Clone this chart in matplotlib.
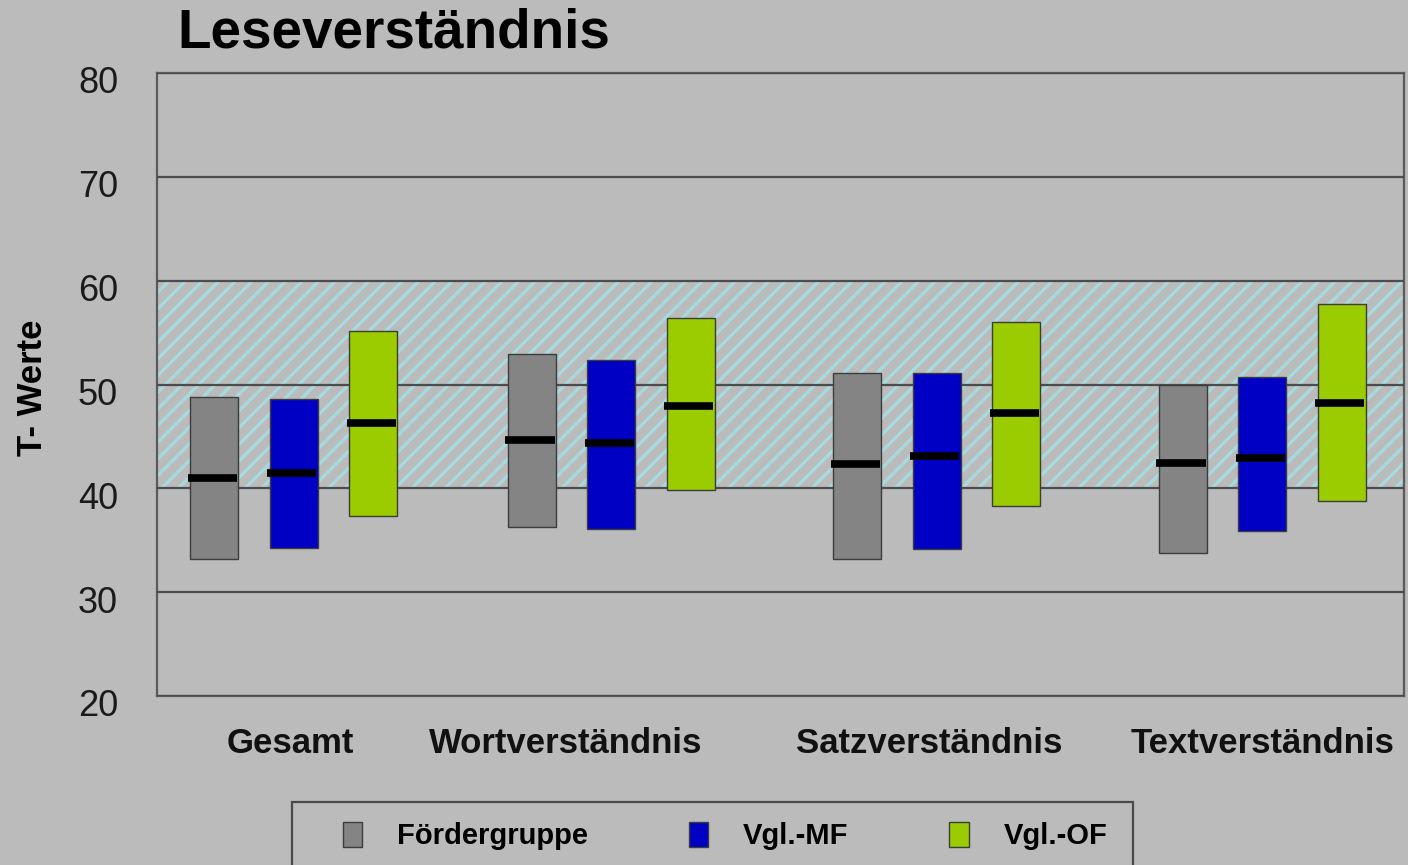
import matplotlib
matplotlib.use("Agg")
import matplotlib.pyplot as plt
from matplotlib.patches import Patch, Rectangle
from matplotlib.transforms import ScaledTranslation

plt.rcParams['font.family'] = ['Liberation Sans', 'DejaVu Sans']
plt.rcParams['hatch.linewidth'] = 2.4

categories = ["Gesamt", "Wortverständnis", "Satzverständnis", "Textverständnis"]
series = ["Fördergruppe", "Vgl.-MF", "Vgl.-OF"]
# lower, upper, median per series per category
lower = {
    "Fördergruppe": [33.2, 36.3, 33.2, 33.8],
    "Vgl.-MF":      [34.3, 36.1, 34.2, 35.9],
    "Vgl.-OF":      [37.3, 39.8, 38.3, 38.8],
}
upper = {
    "Fördergruppe": [48.8, 52.9, 51.1, 50.0],
    "Vgl.-MF":      [48.6, 52.4, 51.1, 50.7],
    "Vgl.-OF":      [55.2, 56.4, 56.0, 57.8],
}
median = {
    "Fördergruppe": [41.0, 44.7, 42.3, 42.4],
    "Vgl.-MF":      [41.5, 44.4, 43.1, 42.9],
    "Vgl.-OF":      [46.3, 47.9, 47.3, 48.2],
}
yticks = [20, 30, 40, 50, 60, 70, 80]
band = (40, 60)
title = "Leseverständnis"
ylabel = "T- Werte"

colors = {"Fördergruppe": "#848484", "Vgl.-MF": "#0000C4", "Vgl.-OF": "#9ACC00"}
offsets = {"Fördergruppe": -0.245, "Vgl.-MF": 0.0, "Vgl.-OF": 0.245}
group_x = [0.01, 0.99, 1.995, 3.0]
label_x = [0.0, 0.85, 1.97, 3.0]
bar_w = 0.148
bg = "#BBBBBB"

fig = plt.figure(figsize=(14.08, 8.65), dpi=100, facecolor=bg)
ax = fig.add_axes([157/1408, 1-696/865, (1404-157)/1408, (696-73)/865])
ax.set_facecolor(bg)
ax.set_xlim(-0.412, 3.437)
ax.set_ylim(yticks[0], yticks[-1])

ax.axhspan(band[0], band[1], facecolor='none', edgecolor='#A6DADE',
           hatch='//', linewidth=0, zorder=1)

ax.set_axisbelow(False)
ax.set_yticks(yticks)
ax.yaxis.grid(True, color='#4c4c4c', linewidth=1.6)
ax.xaxis.grid(False)

for s in series:
    xs = [g + offsets[s] for g in group_x]
    heights = [u - l for u, l in zip(upper[s], lower[s])]
    ax.bar(xs, heights, bottom=lower[s], width=bar_w, color=colors[s],
           edgecolor='#3c3c3c', linewidth=1.0, zorder=3)
    ax.hlines(median[s], [xi - bar_w/2 - 0.008 for xi in xs],
              [xi + bar_w/2 - 0.004 for xi in xs], color='black',
              linewidth=5.5, zorder=4)

for sp in ax.spines.values():
    sp.set_color('#5a5a5a')
    sp.set_linewidth(1.6)

ax.tick_params(axis='y', length=0, pad=28, labelsize=26, labelcolor='#1a1a1a')
ax.set_xticks(label_x)
ax.set_xticklabels(categories, fontsize=25, fontweight='bold')
ax.tick_params(axis='x', length=0, pad=22, labelcolor='#111111')
off = ScaledTranslation(0, -5/72, fig.dpi_scale_trans)
for lab in ax.yaxis.get_majorticklabels():
    lab.set_transform(lab.get_transform() + off)

fig.text(177/1408, 1-47/865, title, fontsize=39.5, fontweight='bold',
         ha='left', va='baseline', color='black')
fig.text(32/1408, 1-388/865, ylabel, rotation=90, fontsize=25,
         fontweight='bold', ha='center', va='center')

fig.add_artist(Rectangle((292/1408, -0.05), (1133-292)/1408, 0.05 + (865-802)/865,
                         transform=fig.transFigure, facecolor=bg,
                         edgecolor='#4a4a4a', linewidth=1.6))
handles = [Patch(facecolor=colors[s], edgecolor='#3c3c3c', linewidth=1.0) for s in series]
leg = fig.legend(handles, series, ncol=3, loc='center left',
                 bbox_to_anchor=(343/1408, 1-836/865), frameon=False,
                 prop={'size': 21, 'weight': 'bold'}, handlelength=0.66,
                 handleheight=0.95, handletextpad=1.2, columnspacing=3.45,
                 borderaxespad=0, borderpad=0)

fig.savefig("out.png", dpi=100, facecolor=bg)
